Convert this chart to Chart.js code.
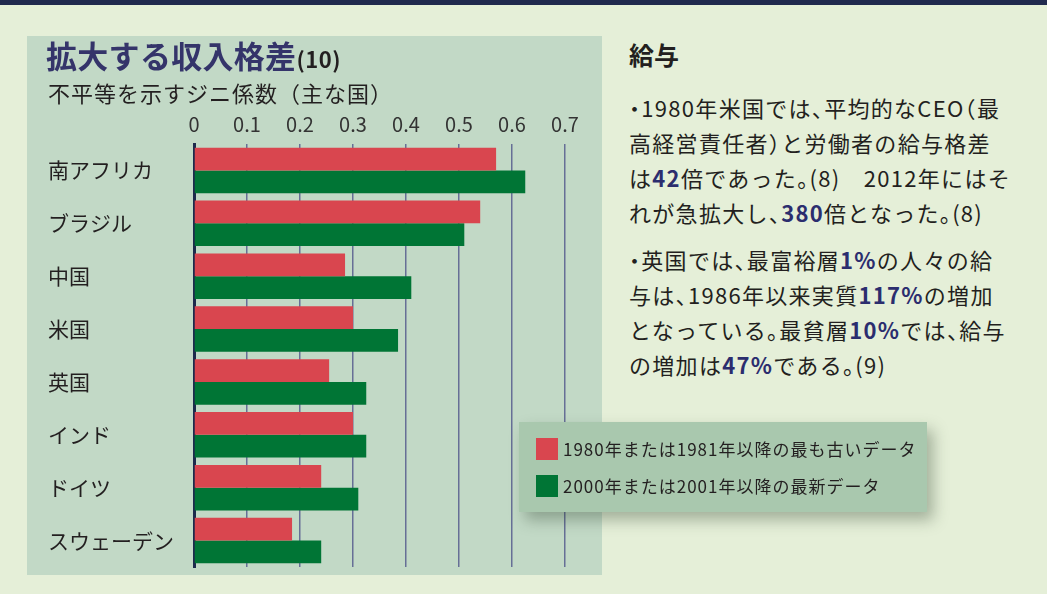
<!DOCTYPE html>
<html lang="ja">
<head>
<meta charset="utf-8">
<script src="https://cdn.jsdelivr.net/npm/chart.js@4.4.1/dist/chart.umd.min.js"></script>
<style>
  html, body { margin: 0; padding: 0; }
  body {
    width: 1047px; height: 594px; position: relative; overflow: hidden;
    background: #e5efd8;
    font-family: "Noto Sans CJK JP", "Noto Sans", sans-serif;
    color: #231f20;
  }
  #topbar { position: absolute; left: 0; top: 0; width: 1047px; height: 5px; background: #202a4e; }
  #panel { position: absolute; left: 27px; top: 36px; width: 575px; height: 539px; background: #c2d9c6; }
  #chart16 { position: absolute; left: 0; top: 0; }
  #title { position: absolute; left: 46px; top: 35px; font-size: 31px; font-weight: bold; color: #34346a; line-height: 40px; white-space: nowrap; letter-spacing: 0.3px; }
  #title span { font-size: 22px; color: #231f20; letter-spacing: 0.5px; }
  #subtitle { position: absolute; left: 48px; top: 77px; font-size: 22px; line-height: 30px; white-space: nowrap; letter-spacing: 1px; }
  #legend {
    position: absolute; left: 519px; top: 422px; width: 408px; height: 90px;
    background: #a9c8ae; box-shadow: 6px 8px 14px rgba(40,60,40,0.35);
  }
  .lg-row { position: absolute; left: 17px; height: 22px; line-height: 22px; font-size: 17px; letter-spacing: 1px; white-space: nowrap; }
  .lg-box { display: inline-block; width: 22px; height: 22px; vertical-align: top; margin-right: 5px; }
  #side { position: absolute; left: 629px; top: 0; }
  #side h2 { position: absolute; left: 0; top: 37px; margin: 0; font-size: 25px; line-height: 34px; font-weight: bold; white-space: nowrap; }
  #side p { position: absolute; left: 0; margin: 0; font-size: 22px; line-height: 35px; letter-spacing: 1.3px; white-space: nowrap; }
  #side b { color: #2b2d6e; }
  .h { font-feature-settings: "halt"; }
</style>
</head>
<body>
<div id="topbar"></div>
<div id="panel"><canvas id="chart16" width="575" height="539"></canvas></div>
<div id="title">拡大する収入格差<span>(10)</span></div>
<div id="subtitle">不平等を示すジニ係数（主な国）</div>
<div id="legend"></div>
<div id="side">
  <h2>給与</h2>
  <p style="top:90px"><span class="h">・</span>1980年米国では<span class="h">、</span>平均的なCEO<span class="h">（</span>最<br>高経営責任者<span class="h">）</span>と労働者の給与格差<br>は<b>42</b>倍であった<span class="h">。</span>(8)　2012年にはそ<br>れが急拡大し<span class="h">、</span><b>380</b>倍となった<span class="h">。</span>(8)</p>
  <p style="top:242px"><span class="h">・</span>英国では<span class="h">、</span>最富裕層<b>1%</b>の人々の給<br>与は<span class="h">、</span>1986年以来実質<b>117%</b>の増加<br>となっている<span class="h">。</span>最貧層<b>10%</b>では<span class="h">、</span>給与<br>の増加は<b>47%</b>である<span class="h">。</span>(9)</p>
</div>
<script>
const countries = ["南アフリカ", "ブラジル", "中国", "米国", "英国", "インド", "ドイツ", "スウェーデン"];
const giniOld = [0.57, 0.54, 0.285, 0.30, 0.255, 0.30, 0.24, 0.185];
const giniNew = [0.625, 0.51, 0.41, 0.385, 0.325, 0.325, 0.31, 0.24];
const seriesLabels = ["1980年または1981年以降の最も古いデータ", "2000年または2001年以降の最新データ"];
const tickLabels = ["0", "0.1", "0.2", "0.3", "0.4", "0.5", "0.6", "0.7"];
const barColors = ["#d9464f", "#007535"];

function drawGiniChart() {
  var ctx = document.getElementById("chart16").getContext("2d");
  var chart = new Chart(ctx, {
    type: "bar",
    data: {
      labels: countries,
      datasets: [
        { label: seriesLabels[0], data: giniOld, backgroundColor: barColors[0], borderWidth: 0 },
        { label: seriesLabels[1], data: giniNew, backgroundColor: barColors[1], borderWidth: 0 },
      ],
    },
    options: {
      indexAxis: "y",
      responsive: false,
      animation: false,
      layout: { padding: { left: 21, top: 0, right: 37, bottom: 8 } },
      datasets: { bar: { categoryPercentage: 0.86, barPercentage: 1.0 } },
      plugins: { legend: { display: false }, tooltip: { enabled: false } },
      scales: {
        x: {
          position: "top",
          min: 0,
          max: 0.7,
          ticks: {
            stepSize: 0.1,
            padding: 8,
            color: "#333",
            font: { family: "Noto Sans CJK JP", size: 20 },
            callback: function (value, index) { return tickLabels[index]; },
          },
          grid: {
            drawTicks: false,
            color: function (c) { return c.tick && c.tick.value === 0 ? "rgba(0,0,0,0)" : "#666f96"; },
            lineWidth: 1.5,
          },
          border: { display: false },
          afterFit: function (scale) { scale.height = 108; },
        },
        y: {
          z: 1,
          ticks: {
            crossAlign: "far",
            color: "#231f20",
            font: { family: "Noto Sans CJK JP", size: 21 },
          },
          grid: { display: false, drawTicks: false },
          border: { display: true, color: "#1d2a4c", width: 3 },
          afterFit: function (scale) {
            scale.width = 146;
            scale.paddingTop = 0;
            scale.paddingBottom = 0;
          },
        },
      },
    },
  });
  return chart;
}

var giniChart = drawGiniChart();

// legend built from the chart's datasets
var legendEl = document.getElementById("legend");
giniChart.data.datasets.forEach(function (ds, i) {
  var row = document.createElement("div");
  row.className = "lg-row";
  row.style.top = (16 + i * 37) + "px";
  row.innerHTML = '<span class="lg-box" style="background:' + ds.backgroundColor + '"></span>' + ds.label;
  legendEl.appendChild(row);
});
</script>
</body>
</html>
